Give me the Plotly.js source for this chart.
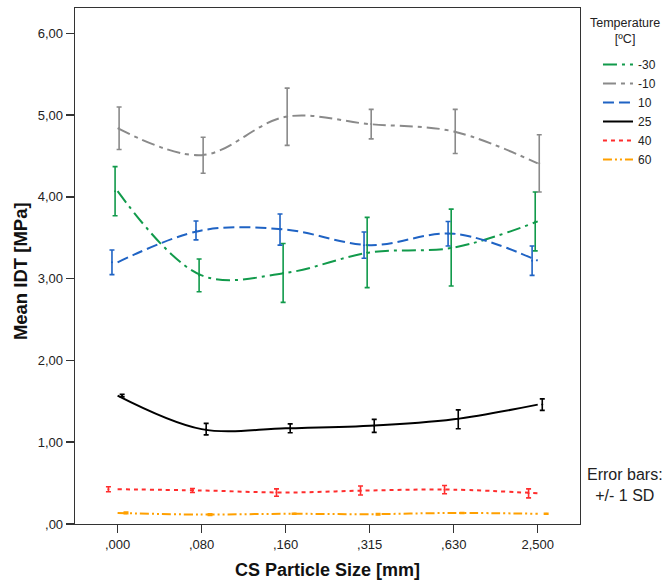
<!DOCTYPE html>
<html>
<head>
<meta charset="utf-8">
<script src="https://cdn.plot.ly/plotly-3.0.1.min.js"></script>
<style>html,body{margin:0;padding:0;background:#fff;}#chart{width:670px;height:585px;}</style>
</head>
<body>
<div id="chart"></div>
<script>
// Categories (CS particle size, mm)
const categories = [",000", ",080", ",160", ",315", ",630", "2,500"];
const yTickValues = [0, 1, 2, 3, 4, 5, 6];
const yTickLabels = [",00", "1,00", "2,00", "3,00", "4,00", "5,00", "6,00"];

// Series: mean IDT [MPa] and SD per temperature
const seriesNames = ["-30", "-10", "10", "25", "40", "60"];
const mean_m30 = [4.07, 3.04, 3.07, 3.32, 3.38, 3.70];
const sd_m30   = [0.30, 0.20, 0.36, 0.43, 0.47, 0.36];
const mean_m10 = [4.84, 4.51, 4.98, 4.89, 4.80, 4.41];
const sd_m10   = [0.26, 0.22, 0.35, 0.18, 0.27, 0.35];
const mean_10  = [3.20, 3.59, 3.60, 3.41, 3.55, 3.22];
const sd_10    = [0.15, 0.115, 0.19, 0.16, 0.15, 0.18];
const mean_25  = [1.57, 1.16, 1.17, 1.20, 1.28, 1.46];
const sd_25    = [0.015, 0.07, 0.055, 0.08, 0.115, 0.07];
const mean_40  = [0.425, 0.41, 0.385, 0.41, 0.42, 0.375];
const sd_40    = [0.03, 0.025, 0.045, 0.055, 0.05, 0.055];
const mean_60  = [0.135, 0.115, 0.125, 0.12, 0.135, 0.125];
const sd_60    = [0.01, 0.01, 0.006, 0.008, 0.006, 0.005];

const means = [mean_m30, mean_m10, mean_10, mean_25, mean_40, mean_60];
const sds = [sd_m30, sd_m10, sd_10, sd_25, sd_40, sd_60];

// Styles (colour, dash, error-bar cluster offset in category units)
const styles = [
  {color: "#119a4b", dash: "14px,5px,3px,5px", off: -0.03},
  {color: "#8a8a8a", dash: "13px,5px,4px,5px", off: 0.018},
  {color: "#1f63c4", dash: "11px,5px", off: -0.067},
  {color: "#000000", dash: "solid", off: 0.054},
  {color: "#ff2d2d", dash: "4px,4px", off: -0.109},
  {color: "#ffa000", dash: "9px,3px,2px,3px,2px,3px", off: 0.10}
];

const idx = categories.map((c, i) => i);
const traces = [];
seriesNames.forEach((name, s) => {
  traces.push({
    type: "scatter", mode: "lines", name: name,
    x: idx, y: means[s],
    line: {color: styles[s].color, width: 2, dash: styles[s].dash, shape: "spline", smoothing: 1},
    legendrank: s + 1, hoverinfo: "skip"
  });
});
seriesNames.forEach((name, s) => {
  traces.push({
    type: "scatter", mode: "markers", showlegend: false,
    x: idx.map(i => i + styles[s].off), y: means[s],
    marker: {size: 2, color: styles[s].color},
    error_y: {type: "data", array: sds[s], visible: true, color: styles[s].color, thickness: 1.6, width: 2.5},
    hoverinfo: "skip"
  });
});

const layout = {
  width: 670, height: 585,
  margin: {l: 75, r: 90, t: 8, b: 61, autoexpand: false},
  paper_bgcolor: "#fff", plot_bgcolor: "#fff",
  font: {family: "Liberation Sans, Arial, sans-serif", size: 13, color: "#222"},
  showlegend: true,
  xaxis: {
    range: [-0.507, 5.503], tickmode: "array", tickvals: idx, ticktext: categories,
    showgrid: false, zeroline: false, showline: true, mirror: true,
    linecolor: "#333", linewidth: 1.3,
    ticks: "outside", ticklen: 8, tickwidth: 1.5, tickcolor: "#333",
    tickfont: {size: 13, color: "#222"},
    title: {text: "<b>CS Particle Size [mm]</b>", font: {size: 18, color: "#111"}, standoff: 12}
  },
  yaxis: {
    range: [0, 6.31], tickmode: "array", tickvals: yTickValues, ticktext: yTickLabels,
    showgrid: false, zeroline: false, showline: true, mirror: true,
    linecolor: "#333", linewidth: 1.3,
    ticks: "outside", ticklen: 8, tickwidth: 1.5, tickcolor: "#333",
    tickfont: {size: 13, color: "#222"}
  },
  legend: {
    xref: "container", yref: "container",
    x: 0.8925, xanchor: "left", y: 1 - 50 / 585, yanchor: "top",
    bgcolor: "rgba(0,0,0,0)", borderwidth: 0,
    font: {size: 12, color: "#222"},
    tracegroupgap: 0, itemwidth: 30
  },
  annotations: [
    {
      xref: "paper", yref: "paper", x: -0.109, y: 0.49, xanchor: "center", yanchor: "middle",
      text: "<b>Mean IDT [MPa]</b>", showarrow: false, textangle: -90,
      font: {size: 18.5, color: "#111"}
    },
    {
      xref: "paper", yref: "paper", x: 1.089, y: 0.955, xanchor: "center", yanchor: "middle",
      text: "Temperature<br>[ºC]", showarrow: false, align: "center",
      font: {size: 12.5, color: "#222"}
    },
    {
      xref: "paper", yref: "paper", x: 1.089, y: 0.075, xanchor: "center", yanchor: "middle",
      text: "Error bars:<br>+/- 1 SD", showarrow: false, align: "center",
      font: {size: 16, color: "#222"}
    }
  ]
};

Plotly.newPlot("chart", traces, layout, {displayModeBar: false, staticPlot: true});
</script>
</body>
</html>
